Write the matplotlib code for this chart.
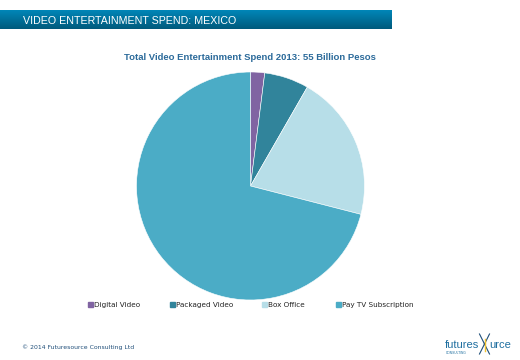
import matplotlib.pyplot as plt
import numpy as np
from matplotlib.patches import Rectangle
from matplotlib.lines import Line2D

W, H = 520, 360

categories = ["Digital Video", "Packaged Video", "Box Office", "Pay TV Subscription"]
shares = [2.0, 6.3, 20.7, 71.0]
colors = ["#8064A2", "#31849B", "#B7DEE8", "#4BACC6"]

header = "VIDEO ENTERTAINMENT SPEND: MEXICO"
title = "Total Video Entertainment Spend 2013: 55 Billion Pesos"
footer = "\u00a9 2014 Futuresource Consulting Ltd"

SANS = "Liberation Sans"

fig = plt.figure(figsize=(W / 100, H / 100), dpi=100)
fig.patch.set_facecolor("white")

# header bar with a vertical gradient
hax = fig.add_axes([0, 1 - 29 / H, 392 / W, 19 / H])
grad = np.linspace(0, 1, 50).reshape(-1, 1)
top = np.array([0x00, 0x86, 0xB8]) / 255
bot = np.array([0x00, 0x5A, 0x7C]) / 255
img = top + (bot - top) * grad[..., None]
hax.imshow(np.repeat(img, 2, axis=1), aspect="auto", extent=[0, 1, 0, 1])
hax.set_axis_off()
fig.text(23 / W, 1 - 23.5 / H, header, color="white", fontsize=7.7,
         family=SANS, va="baseline", ha="left")

fig.text(250 / W, 1 - 58 / H, title, color="#2B6A9A", fontsize=6.8,
         family=SANS, fontweight="bold", ha="center", va="center")

# pie
r = 114
cx, cy = 250.5, 186
ax = fig.add_axes([(cx - r) / W, (H - cy - r) / H, 2 * r / W, 2 * r / H])
ax.pie(shares, colors=colors, startangle=90, counterclock=False,
       radius=1, wedgeprops=dict(linewidth=0.4, edgecolor="white"))
ax.set_xlim(-1, 1)
ax.set_ylim(-1, 1)
ax.set_aspect("equal")
ax.set_axis_off()

# legend
xs = [88, 170, 262, 336]
for x, lab, c in zip(xs, categories, colors):
    fig.patches.append(Rectangle((x / W, 1 - 307 / H), 5 / W, 5 / H,
                                 transform=fig.transFigure, color=c))
    fig.text((x + 6) / W, 1 - 306.8 / H, lab, fontsize=5.2, color="#222222",
             ha="left", va="baseline")

# footer
fig.text(22 / W, 1 - 347 / H, footer, fontsize=4.4, color="#1F4E79",
         ha="left", va="center")

# logo
fig.text(445 / W, 1 - 348 / H, "futures", fontsize=8, color="#1F6FA0",
         family=SANS, ha="left", va="baseline")
fig.text(489 / W, 1 - 348 / H, "urce", fontsize=8, color="#1F6FA0",
         family=SANS, ha="left", va="baseline")
fig.text(446 / W, 1 - 353 / H, "CONSULTING", fontsize=2.3, color="#1F6FA0",
         family=SANS, ha="left", va="center")
lx, ly = 484.5, 344
for dx, dy in [(-5, -10), (5, 10), (-5, 10), (5, -10)]:
    fig.lines.append(Line2D([lx / W, (lx + dx) / W], [1 - ly / H, 1 - (ly + dy) / H],
                            transform=fig.transFigure, color="#1F4E79", lw=0.8))
fig.lines.append(Line2D([lx / W, lx / W], [1 - (ly - 5) / H, 1 - (ly + 7) / H],
                        transform=fig.transFigure, color="#F2C230", lw=1.0))

fig.savefig("out.png", dpi=100, facecolor="white")
